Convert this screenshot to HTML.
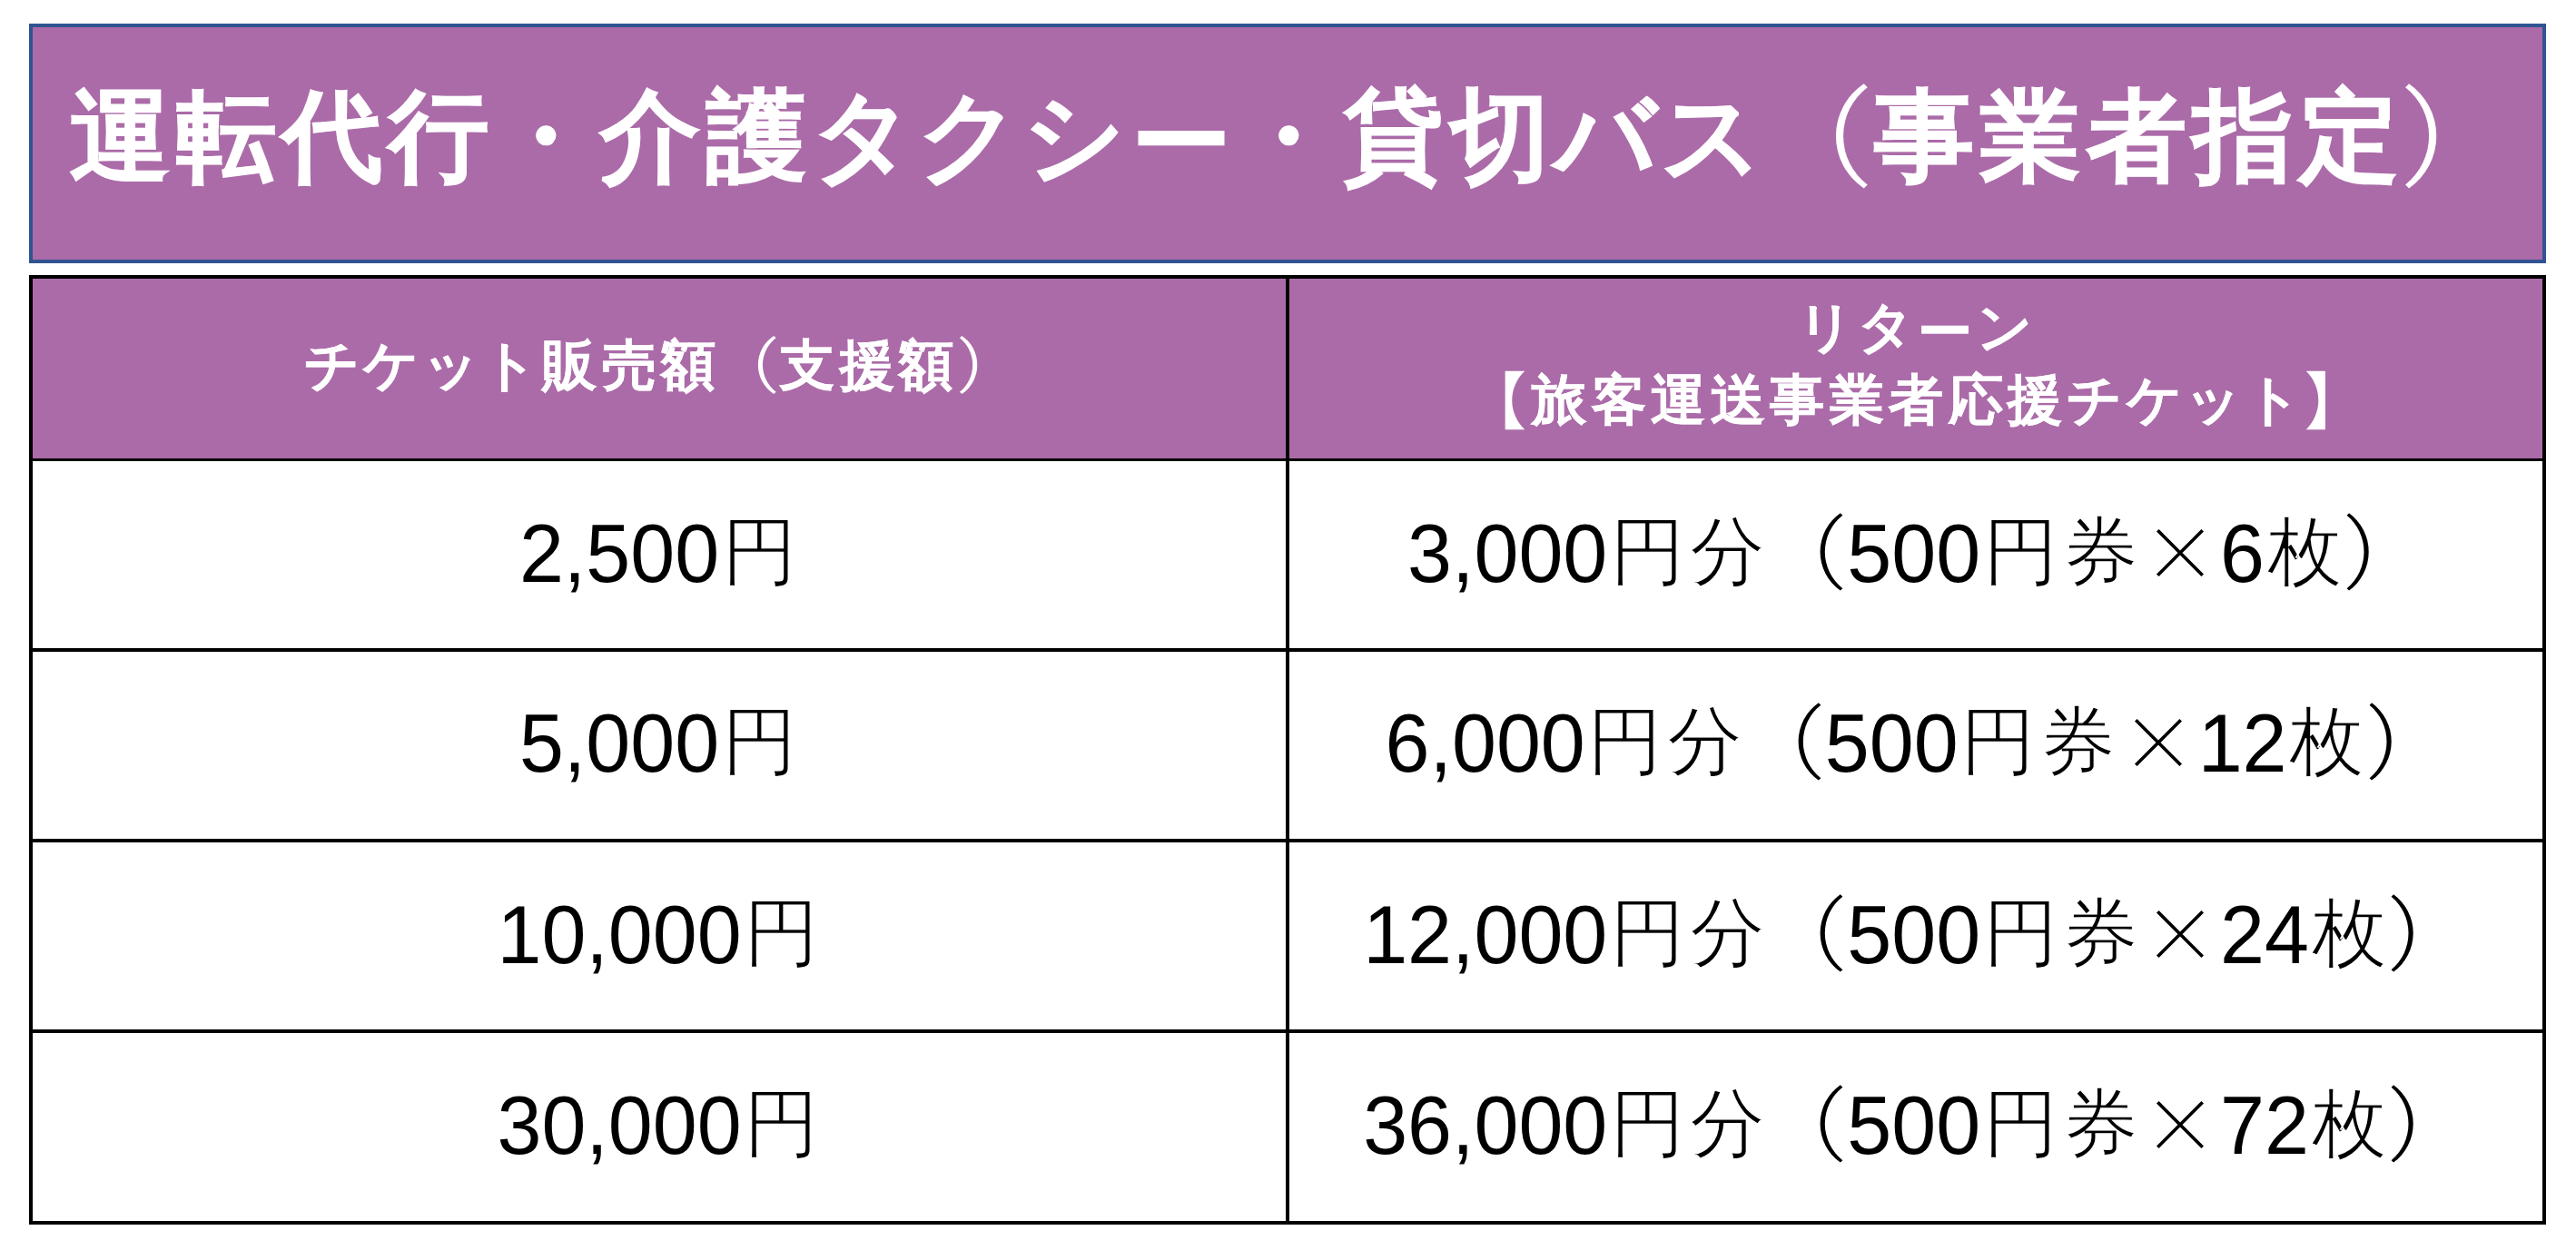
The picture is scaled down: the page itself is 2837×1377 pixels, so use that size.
<!DOCTYPE html>
<html lang="ja">
<head>
<meta charset="utf-8">
<title>運転代行・介護タクシー・貸切バス（事業者指定）</title>
<style>
html,body{margin:0;padding:0;background:#fff;}
body{width:2837px;height:1377px;overflow:hidden;position:relative;font-family:"Liberation Sans",sans-serif;}
.abs,.ln{position:absolute;}
.ln{white-space:nowrap;}
.ln span,.ln svg{display:inline-block;vertical-align:top;}
.ln svg{overflow:visible;}
#title{left:32px;top:26px;width:2772px;height:264px;box-sizing:border-box;border:4px solid #2f5491;background:#ab6ba8;}
#tbl{left:32px;top:303px;width:2772px;height:1046px;box-sizing:border-box;border:4px solid #000;background:#fff;}
#hdr{left:36px;top:307px;width:2764px;height:198px;background:#ab6ba8;}
.hl{left:36px;width:2764px;height:4px;background:#000;}
.vl{left:1416px;top:307px;width:4px;height:1038px;background:#000;}
.t{color:#fff;font-weight:bold;}
.t span,.t svg{height:130px;line-height:130px;}
.t .k{width:116.9px;text-align:center;font-size:110px;-webkit-text-stroke:1.2px #fff;}
.h{color:#fff;font-weight:bold;}
.h span,.h svg{height:76px;line-height:76px;}
.h .k{width:65.5px;text-align:center;font-size:60px;-webkit-text-stroke:0.5px #fff;}
.b{color:#000;}
.b span,.b svg{height:100px;line-height:100px;}
.b .k{width:88px;text-align:center;font-size:83px;}
.b .d{font-size:88px;transform:scaleY(1.035);}
.b .k{position:relative;top:-2px;-webkit-text-stroke:1.6px #fff;}
.t .c{position:relative;top:6px;}
.h .c{position:relative;top:5px;}
</style>
</head>
<body>
<div id="title" class="abs"></div>
<div id="tbl" class="abs"></div>
<div id="hdr" class="abs"></div>
<div class="abs hl" style="top:505px;height:3px"></div>
<div class="abs hl" style="top:714px"></div>
<div class="abs hl" style="top:924px"></div>
<div class="abs hl" style="top:1134px"></div>
<div class="abs vl"></div>
<div class="ln t" style="left:73.50px;top:85.40px"><span class="k">運</span><span class="k">転</span><span class="k">代</span><span class="k">行</span><span class="k">・</span><span class="k">介</span><span class="k">護</span><span class="k">タ</span><span class="k">ク</span><span class="k">シ</span><span class="k c">ー</span><span class="k">・</span><span class="k">貸</span><span class="k">切</span><span class="k">バ</span><span class="k">ス</span><svg class="g" width="116.9" height="130" viewBox="0 0 116.9 130"><path d="M108.74 7.20A69.21 69.21 0 0 0 108.74 122.40L112.70 118.44A67.38 67.38 0 0 1 112.70 11.16Z" fill="#fff"/></svg><span class="k">事</span><span class="k">業</span><span class="k">者</span><span class="k">指</span><span class="k">定</span><svg class="g" width="116.9" height="130" viewBox="0 0 116.9 130"><path d="M8.06 7.20A69.98 69.98 0 0 1 8.06 122.40L4.10 118.44A68.33 68.33 0 0 0 4.10 11.16Z" fill="#fff"/></svg></div>
<div class="ln h" style="left:332.25px;top:365.00px"><span class="k">チ</span><span class="k">ケ</span><span class="k">ッ</span><span class="k">ト</span><span class="k">販</span><span class="k">売</span><span class="k">額</span><svg class="g" width="65.5" height="76" viewBox="0 0 65.5 76"><path d="M61.27 4.90A38.28 38.28 0 0 0 61.27 69.10L63.65 66.72A37.40 37.40 0 0 1 63.65 7.28Z" fill="#fff"/></svg><span class="k">支</span><span class="k">援</span><span class="k">額</span><svg class="g" width="65.5" height="76" viewBox="0 0 65.5 76"><path d="M6.33 4.90A38.84 38.84 0 0 1 6.33 69.10L3.95 66.72A38.13 38.13 0 0 0 3.95 7.28Z" fill="#fff"/></svg></div>
<div class="ln h" style="left:1978.00px;top:323.00px"><span class="k">リ</span><span class="k">タ</span><span class="k c">ー</span><span class="k">ン</span></div>
<div class="ln h" style="left:1619.00px;top:402.50px"><svg class="g" width="65.5" height="76" viewBox="0 0 65.5 76"><path d="M38.64 5.80H60.26A44.00 44.00 0 0 0 60.26 70.20H38.64Z" fill="#fff"/></svg><span class="k">旅</span><span class="k">客</span><span class="k">運</span><span class="k">送</span><span class="k">事</span><span class="k">業</span><span class="k">者</span><span class="k">応</span><span class="k">援</span><span class="k">チ</span><span class="k">ケ</span><span class="k">ッ</span><span class="k">ト</span><svg class="g" width="65.5" height="76" viewBox="0 0 65.5 76"><path d="M24.89 5.80H3.67A44.87 44.87 0 0 1 3.67 70.20H24.89Z" fill="#fff"/></svg></div>
<div class="ln b" style="left:571.91px;top:559.50px"><span class="d">2,500</span><span class="k">円</span></div>
<div class="ln b" style="left:1550.06px;top:559.50px"><span class="d">3,000</span><span class="k">円</span><span class="k">分</span><svg class="g" width="88" height="100" viewBox="0 0 88 100"><path d="M80.85 5.20A52.10 52.10 0 0 0 80.85 90.60L83.30 88.15A51.29 51.29 0 0 1 83.30 7.65Z" fill="#000"/></svg><span class="d">500</span><span class="k">円</span><span class="k">券</span><svg class="g" width="88" height="100" viewBox="0 0 88 100"><path d="M19.30 24.30L68.70 73.70M68.70 24.30L19.30 73.70" fill="none" stroke="#000" stroke-width="3.7"/></svg><span class="d">6</span><span class="k">枚</span><svg class="g" width="88" height="100" viewBox="0 0 88 100"><path d="M5.05 5.20A52.93 52.93 0 0 1 5.05 90.60L2.60 88.15A52.31 52.31 0 0 0 2.60 7.65Z" fill="#000"/></svg></div>
<div class="ln b" style="left:571.91px;top:768.60px"><span class="d">5,000</span><span class="k">円</span></div>
<div class="ln b" style="left:1525.59px;top:768.60px"><span class="d">6,000</span><span class="k">円</span><span class="k">分</span><svg class="g" width="88" height="100" viewBox="0 0 88 100"><path d="M80.85 5.20A52.10 52.10 0 0 0 80.85 90.60L83.30 88.15A51.29 51.29 0 0 1 83.30 7.65Z" fill="#000"/></svg><span class="d">500</span><span class="k">円</span><span class="k">券</span><svg class="g" width="88" height="100" viewBox="0 0 88 100"><path d="M19.30 24.30L68.70 73.70M68.70 24.30L19.30 73.70" fill="none" stroke="#000" stroke-width="3.7"/></svg><span class="d">12</span><span class="k">枚</span><svg class="g" width="88" height="100" viewBox="0 0 88 100"><path d="M5.05 5.20A52.93 52.93 0 0 1 5.05 90.60L2.60 88.15A52.31 52.31 0 0 0 2.60 7.65Z" fill="#000"/></svg></div>
<div class="ln b" style="left:547.45px;top:979.50px"><span class="d">10,000</span><span class="k">円</span></div>
<div class="ln b" style="left:1501.13px;top:979.50px"><span class="d">12,000</span><span class="k">円</span><span class="k">分</span><svg class="g" width="88" height="100" viewBox="0 0 88 100"><path d="M80.85 5.20A52.10 52.10 0 0 0 80.85 90.60L83.30 88.15A51.29 51.29 0 0 1 83.30 7.65Z" fill="#000"/></svg><span class="d">500</span><span class="k">円</span><span class="k">券</span><svg class="g" width="88" height="100" viewBox="0 0 88 100"><path d="M19.30 24.30L68.70 73.70M68.70 24.30L19.30 73.70" fill="none" stroke="#000" stroke-width="3.7"/></svg><span class="d">24</span><span class="k">枚</span><svg class="g" width="88" height="100" viewBox="0 0 88 100"><path d="M5.05 5.20A52.93 52.93 0 0 1 5.05 90.60L2.60 88.15A52.31 52.31 0 0 0 2.60 7.65Z" fill="#000"/></svg></div>
<div class="ln b" style="left:547.45px;top:1189.50px"><span class="d">30,000</span><span class="k">円</span></div>
<div class="ln b" style="left:1501.13px;top:1189.50px"><span class="d">36,000</span><span class="k">円</span><span class="k">分</span><svg class="g" width="88" height="100" viewBox="0 0 88 100"><path d="M80.85 5.20A52.10 52.10 0 0 0 80.85 90.60L83.30 88.15A51.29 51.29 0 0 1 83.30 7.65Z" fill="#000"/></svg><span class="d">500</span><span class="k">円</span><span class="k">券</span><svg class="g" width="88" height="100" viewBox="0 0 88 100"><path d="M19.30 24.30L68.70 73.70M68.70 24.30L19.30 73.70" fill="none" stroke="#000" stroke-width="3.7"/></svg><span class="d">72</span><span class="k">枚</span><svg class="g" width="88" height="100" viewBox="0 0 88 100"><path d="M5.05 5.20A52.93 52.93 0 0 1 5.05 90.60L2.60 88.15A52.31 52.31 0 0 0 2.60 7.65Z" fill="#000"/></svg></div>
</body>
</html>
